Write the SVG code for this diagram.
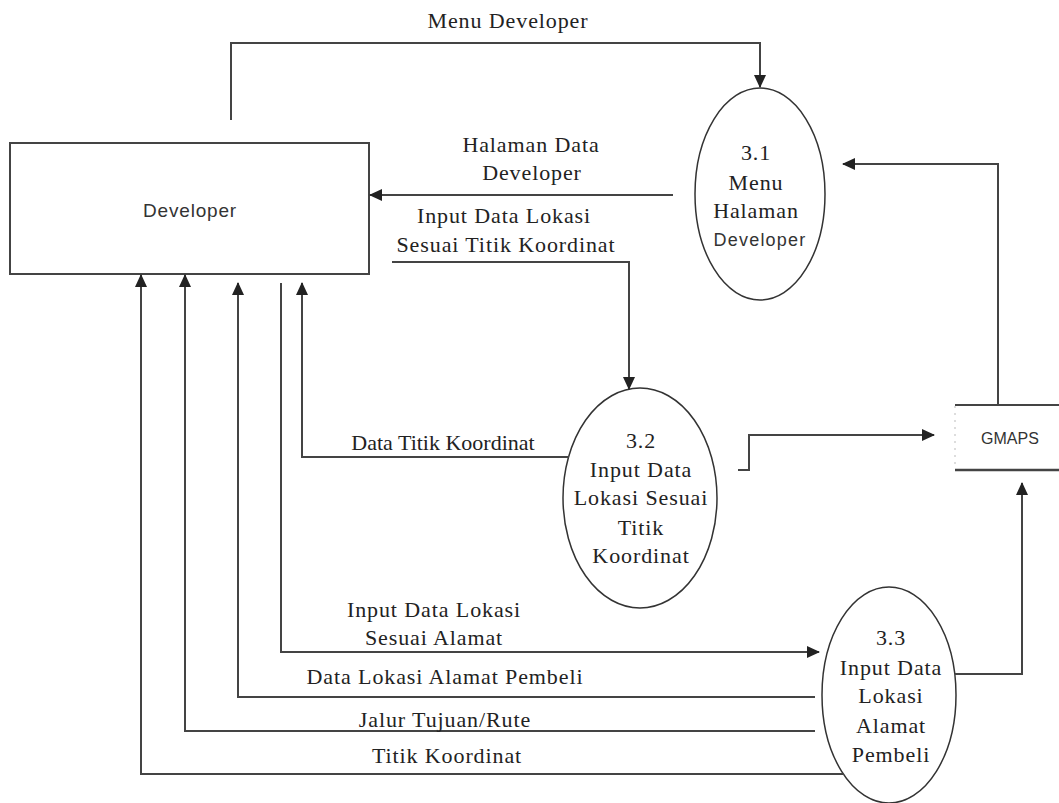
<svg xmlns="http://www.w3.org/2000/svg" width="1059" height="803" viewBox="0 0 1059 803">
  <defs>
    <marker id="arrow" markerUnits="userSpaceOnUse" markerWidth="14" markerHeight="12" refX="12" refY="6" orient="auto">
      <path d="M0,0 L13,6 L0,12 Z" fill="#222"/>
    </marker>
    <style>
      .box { fill: #fff; stroke: #444; stroke-width: 2; }
      .proc { fill: #fff; stroke: #333; stroke-width: 1.5; }
      .flow-a { fill: none; stroke: #444; stroke-width: 2; marker-end: url(#arrow); }
      .lbl { font-family: "Liberation Serif", "Times New Roman", serif; font-size: 22px; letter-spacing: 0.9px; fill: #222; text-anchor: middle; }
      .tight { letter-spacing: 0; }
      .sans { font-family: "Liberation Sans", Arial, sans-serif; fill: #333; text-anchor: middle; }
    </style>
  </defs>

  <rect width="1059" height="803" fill="#fff"/>

  <!-- external entity -->
  <g id="developer">
    <rect class="box" x="10" y="143" width="359" height="131"/>
    <text class="sans" x="190" y="217" font-size="19" letter-spacing="0.8">Developer</text>
  </g>

  <!-- data store -->
  <g id="gmaps">
    <line x1="955" y1="405" x2="1059" y2="405" stroke="#444" stroke-width="2"/>
    <line x1="955" y1="470" x2="1059" y2="470" stroke="#444" stroke-width="2.5"/>
    <line x1="955" y1="406" x2="955" y2="469" stroke="#bbb" stroke-width="1" stroke-dasharray="2,5"/>
    <text class="sans" x="1010" y="444" font-size="16">GMAPS</text>
  </g>

  <!-- processes -->
  <g id="p31">
    <ellipse class="proc" cx="760" cy="194" rx="65" ry="106"/>
    <text class="lbl" x="756" y="160">3.1</text>
    <text class="lbl" x="756" y="190">Menu</text>
    <text class="lbl" x="756" y="218">Halaman</text>
    <text class="sans" x="760" y="246" font-size="18" letter-spacing="1.2">Developer</text>
  </g>

  <g id="p32">
    <ellipse class="proc" cx="640" cy="498" rx="77" ry="110"/>
    <text class="lbl" x="641" y="448">3.2</text>
    <text class="lbl" x="641" y="477">Input Data</text>
    <text class="lbl" x="641" y="505">Lokasi Sesuai</text>
    <text class="lbl" x="641" y="535">Titik</text>
    <text class="lbl" x="641" y="563">Koordinat</text>
  </g>

  <g id="p33">
    <ellipse class="proc" cx="889" cy="695" rx="67" ry="108"/>
    <text class="lbl" x="891" y="645">3.3</text>
    <text class="lbl" x="891" y="675">Input Data</text>
    <text class="lbl" x="891" y="703">Lokasi</text>
    <text class="lbl" x="891" y="733">Alamat</text>
    <text class="lbl" x="891" y="762">Pembeli</text>
  </g>

  <!-- data flows -->
  <g id="connectors">
    <path class="flow-a" d="M231,120 V43 H760 V87"/>
    <path class="flow-a" d="M673,195 H370"/>
    <path class="flow-a" d="M392,262 H629 V389"/>
    <path class="flow-a" d="M569,457 H302 V283"/>
    <path class="flow-a" d="M738,470 H749 V435 H934"/>
    <path class="flow-a" d="M998,405 V164 H843"/>
    <path class="flow-a" d="M955,674 H1022 V483"/>
    <path class="flow-a" d="M281,283 V652 H819"/>
    <path class="flow-a" d="M815,697 H238 V283"/>
    <path class="flow-a" d="M815,731 H185 V275"/>
    <path class="flow-a" d="M844,774 H141 V275"/>
  </g>

  <!-- flow labels -->
  <g id="labels">
    <text class="lbl" x="508" y="28">Menu Developer</text>
    <text class="lbl" x="531" y="152">Halaman Data</text>
    <text class="lbl" x="532" y="180">Developer</text>
    <text class="lbl" x="504" y="223">Input Data Lokasi</text>
    <text class="lbl" x="506" y="252">Sesuai Titik Koordinat</text>
    <text class="lbl tight" x="443" y="450">Data Titik Koordinat</text>
    <text class="lbl" x="434" y="617">Input Data Lokasi</text>
    <text class="lbl" x="434" y="645">Sesuai Alamat</text>
    <text class="lbl" x="445" y="684">Data Lokasi Alamat Pembeli</text>
    <text class="lbl" x="445" y="727">Jalur Tujuan/Rute</text>
    <text class="lbl" x="447" y="763">Titik Koordinat</text>
  </g>
</svg>
